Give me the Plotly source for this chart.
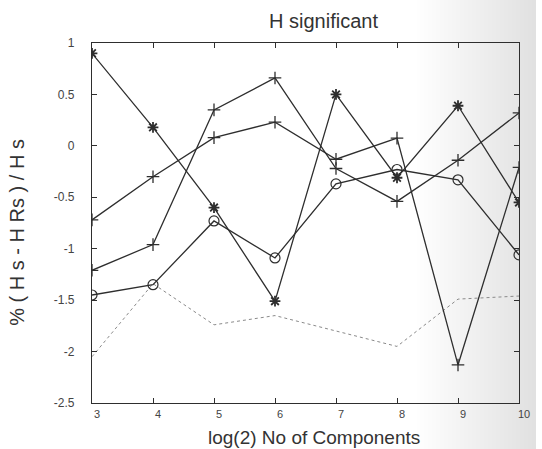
import plotly.graph_objects as go

x_vals = [3, 4, 5, 6, 7, 8, 9, 10]
star_series = [0.90, 0.18, -0.60, -1.51, 0.50, -0.31, 0.39, -0.55]
plus_series_a = [-0.72, -0.30, 0.08, 0.23, -0.13, 0.075, -2.13, -0.21]
plus_series_b = [-1.21, -0.96, 0.35, 0.66, -0.22, -0.54, -0.14, 0.32]
circle_series = [-1.45, -1.35, -0.73, -1.09, -0.37, -0.23, -0.33, -1.06]
dotted_series = [-2.05, -1.34, -1.74, -1.65, -1.80, -1.95, -1.49, -1.46]

y_ticks = [1, 0.5, 0, -0.5, -1, -1.5, -2, -2.5]
y_tick_labels = ["1", "0.5", "0", "-0.5", "-1", "-1.5", "-2", "-2.5"]
x_ticks = [3, 4, 5, 6, 7, 8, 9, 10]

ink = "#2e2e2e"
fig = go.Figure()

fig.add_trace(go.Scatter(x=x_vals, y=dotted_series, mode="lines",
                         line=dict(color="#8a8a8a", width=1, dash="dot")))
fig.add_trace(go.Scatter(x=x_vals, y=plus_series_a, mode="lines+markers",
                         line=dict(color=ink, width=1.3),
                         marker=dict(symbol="cross-thin-open", size=9,
                                     line=dict(color=ink, width=1.3))))
fig.add_trace(go.Scatter(x=x_vals, y=plus_series_b, mode="lines+markers",
                         line=dict(color=ink, width=1.3),
                         marker=dict(symbol="cross-thin-open", size=9,
                                     line=dict(color=ink, width=1.3))))
fig.add_trace(go.Scatter(x=x_vals, y=circle_series, mode="lines+markers",
                         line=dict(color=ink, width=1.3),
                         marker=dict(symbol="circle-open", size=10,
                                     line=dict(color=ink, width=1.2))))
fig.add_trace(go.Scatter(x=x_vals, y=star_series, mode="lines+markers",
                         line=dict(color=ink, width=1.3),
                         marker=dict(symbol="asterisk-open", size=9,
                                     line=dict(color=ink, width=1.8))))

# scanned-page shading toward the right binding (smooth gradient)
shapes = []
n_bands = 30
for i in range(n_bands):
    x0 = 0.76 + i * (1.04 - 0.76) / n_bands
    shapes.append(dict(type="rect", xref="paper", yref="paper",
                       x0=x0, x1=1.04, y0=-0.15, y1=1.15,
                       fillcolor="rgba(110,110,110,0.006)",
                       line=dict(width=0), layer="below"))

fig.update_layout(
    width=542, height=449,
    margin=dict(l=92, r=13, t=43, b=46),
    paper_bgcolor="white", plot_bgcolor="rgba(0,0,0,0)",
    showlegend=False,
    font=dict(family="Liberation Sans, Arial, sans-serif", color="#333"),
    shapes=shapes,
    annotations=[
        dict(text="H significant", xref="paper", yref="paper",
             x=(329 - 92) / 437, y=1.0 + 22 / 360, showarrow=False,
             font=dict(size=20, color="#333"), xanchor="center", yanchor="middle"),
        dict(text="log(2) No of Components", xref="paper", yref="paper",
             x=(319 - 92) / 437, y=-(437 - 403) / 360, showarrow=False,
             font=dict(size=19, color="#333"), xanchor="center", yanchor="middle"),
        dict(text="% ( H s - H Rs ) / H s", xref="paper", yref="paper",
             x=-(92 - 15) / 437, y=1 - (232 - 43) / 360, showarrow=False,
             textangle=-90,
             font=dict(size=20, color="#333"), xanchor="center", yanchor="middle"),
    ],
    xaxis=dict(range=[3, 10], tickvals=x_ticks, ticks="inside", ticklen=5,
               tickcolor=ink, showgrid=False, zeroline=False,
               showline=True, linecolor=ink, linewidth=1.2, mirror="ticks",
               tickfont=dict(size=11, color="#444"),
               ticklabelstandoff=1, ticklabelshift=5),
    yaxis=dict(range=[-2.5, 1], tickvals=y_ticks, ticktext=y_tick_labels,
               ticks="inside", ticklen=5, tickcolor=ink,
               showgrid=False, zeroline=False,
               showline=True, linecolor=ink, linewidth=1.2, mirror="ticks",
               tickfont=dict(size=12, color="#444"),
               ticklabelstandoff=14),
)

fig.write_html("out.html")
